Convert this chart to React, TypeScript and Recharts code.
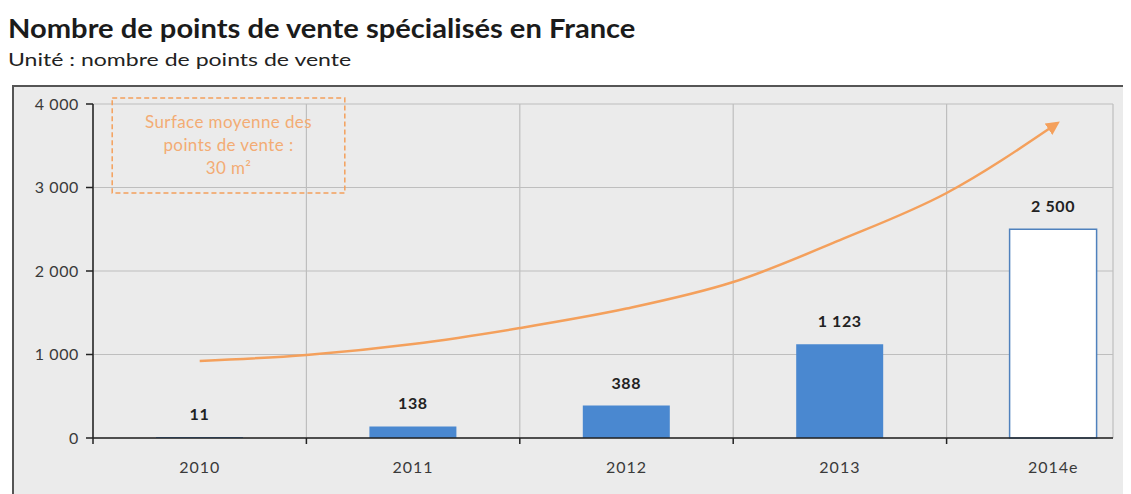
import React from "react";
import {
  ComposedChart,
  Bar,
  Cell,
  Line,
  XAxis,
  YAxis,
  CartesianGrid,
  LabelList,
  ReferenceArea,
} from "recharts";

const years = ["2010", "2011", "2012", "2013", "2014e"];
const shops = [11, 138, 388, 1123, 2500];
const yTicks = [0, 1000, 2000, 3000, 4000];
const gridTicks = [0, 1, 2, 3, 4, 5];
const labelTicks = [0.5, 1.5, 2.5, 3.5, 4.5];

// hand-drawn growth arrow (x in category units)
const trendX = [0.5, 1, 1.5, 2, 2.5, 3, 3.5, 4, 4.52];
const trendY = [922, 994, 1126, 1317, 1550, 1868, 2370, 2934, 3772];

const noteLines = ["Surface moyenne des", "points de vente :", "30 m²"];
const noteBox = { x1: 0.09, x2: 1.18, y1: 2934, y2: 4072 };

const data = years.map((year, i) => ({ x: i + 0.5, year, value: shops[i] }));
const trend = trendX.map((x, i) => ({ x, v: trendY[i] }));

const BLUE = "#4a88d0";
const ORANGE = "#f4a05c";
const FONT = "Lato, 'DejaVu Sans', sans-serif";

const fmt = (v: number) => String(v).replace(/\B(?=(\d{3})+(?!\d))/g, " ");

function NoteText(props: any) {
  const vb = props.viewBox || {};
  const cx = vb.x + vb.width / 2;
  return (
    <text
      textAnchor="middle"
      fill="#f3ac74"
      fontSize={17}
      letterSpacing={0.4}
      fontFamily={FONT}
    >
      {noteLines.map((l, i) => (
        <tspan key={i} x={cx} y={vb.y + 30 + i * 23}>
          {l}
        </tspan>
      ))}
    </text>
  );
}

export default function App() {
  return (
    <div
      style={{
        position: "relative",
        width: 1123,
        height: 486,
        overflow: "hidden",
        fontFamily: FONT,
      }}
    >
      <svg width={0} height={0} style={{ position: "absolute" }}>
        <defs>
          <marker
            id="arrowHead"
            viewBox="0 0 10 10"
            refX={8}
            refY={5}
            markerWidth={5.5}
            markerHeight={5.5}
            orient="auto"
          >
            <path d="M0,0 L10,5 L0,10 z" fill={ORANGE} />
          </marker>
        </defs>
      </svg>
      <div
        style={{
          position: "absolute",
          left: 0,
          top: 4,
          fontSize: 26,
          fontWeight: 700,
          color: "#1b1b1b",
          whiteSpace: "nowrap",
          transform: "scaleX(1.12)",
          transformOrigin: "left top",
        }}
      >
        Nombre de points de vente spécialisés en France
      </div>
      <div
        style={{
          position: "absolute",
          left: 0,
          top: 40,
          fontSize: 18,
          color: "#222",
          whiteSpace: "nowrap",
          transform: "scaleX(1.28)",
          transformOrigin: "left top",
        }}
      >
        Unité : nombre de points de vente
      </div>
      <div
        style={{
          position: "absolute",
          left: 4,
          top: 77,
          width: 1200,
          height: 500,
          border: "2px solid #555",
          background: "#ebebeb",
          boxSizing: "border-box",
        }}
      />
      <div style={{ position: "absolute", left: 0, top: 77 }}>
        <ComposedChart
          width={1123}
          height={409}
          data={data}
          margin={{ top: 19, right: 18, bottom: 0, left: 25 }}
        >
          <CartesianGrid xAxisId="grid" stroke="#bebebe" strokeWidth={1.2} />
          <XAxis
            xAxisId="grid"
            type="number"
            dataKey="x"
            domain={[0, 5]}
            ticks={gridTicks}
            interval={0}
            padding={{ left: 0, right: -47 }}
            height={8}
            tickSize={6}
            tickFormatter={() => ""}
            axisLine={{ stroke: "#222", strokeWidth: 1.5 }}
            tickLine={{ stroke: "#222", strokeWidth: 1.5 }}
          />
          <XAxis
            xAxisId="lab"
            type="number"
            dataKey="x"
            domain={[0, 5]}
            ticks={labelTicks}
            interval={0}
            padding={{ left: 0, right: -47 }}
            height={48}
            tickSize={0}
            tickMargin={16}
            axisLine={false}
            tickLine={false}
            tick={{ fill: "#3a3a3a", fontSize: 16, letterSpacing: 1, fontFamily: FONT }}
            tickFormatter={(v: number) => years[Math.floor(v)]}
          />
          <YAxis
            type="number"
            domain={[0, 4000]}
            ticks={yTicks}
            interval={0}
            width={60}
            tickSize={7}
            tickMargin={7}
            tickFormatter={fmt}
            axisLine={{ stroke: "#222", strokeWidth: 1.5 }}
            tickLine={{ stroke: "#222", strokeWidth: 1.5 }}
            tick={{ fill: "#3a3a3a", fontSize: 16, letterSpacing: 0.6, fontFamily: FONT }}
          />
          <ReferenceArea
            xAxisId="lab"
            x1={noteBox.x1}
            x2={noteBox.x2}
            y1={noteBox.y1}
            y2={noteBox.y2}
            ifOverflow="visible"
            fill="none"
            stroke={ORANGE}
            strokeWidth={1.5}
            strokeDasharray="5 3"
            label={<NoteText />}
          />
          <Bar
            xAxisId="grid"
            dataKey="value"
            barSize={87}
            isAnimationActive={false}
          >
            {data.map((d, i) => (
              <Cell
                key={d.year}
                fill={i === data.length - 1 ? "#ffffff" : BLUE}
                stroke={i === data.length - 1 ? "#4f81bd" : "none"}
                strokeWidth={1.5}
              />
            ))}
            <LabelList
              dataKey="value"
              position="top"
              offset={17}
              formatter={(v: any) => fmt(Number(v))}
              style={{
                fill: "#222",
                fontSize: 16,
                fontWeight: 700,
                letterSpacing: 0.6,
                fontFamily: FONT,
              }}
            />
          </Bar>
          <Line
            xAxisId="lab"
            data={trend}
            dataKey="v"
            type="monotone"
            stroke={ORANGE}
            strokeWidth={2.5}
            dot={false}
            activeDot={false}
            markerEnd="url(#arrowHead)"
            isAnimationActive={false}
          />
        </ComposedChart>
      </div>
    </div>
  );
}
